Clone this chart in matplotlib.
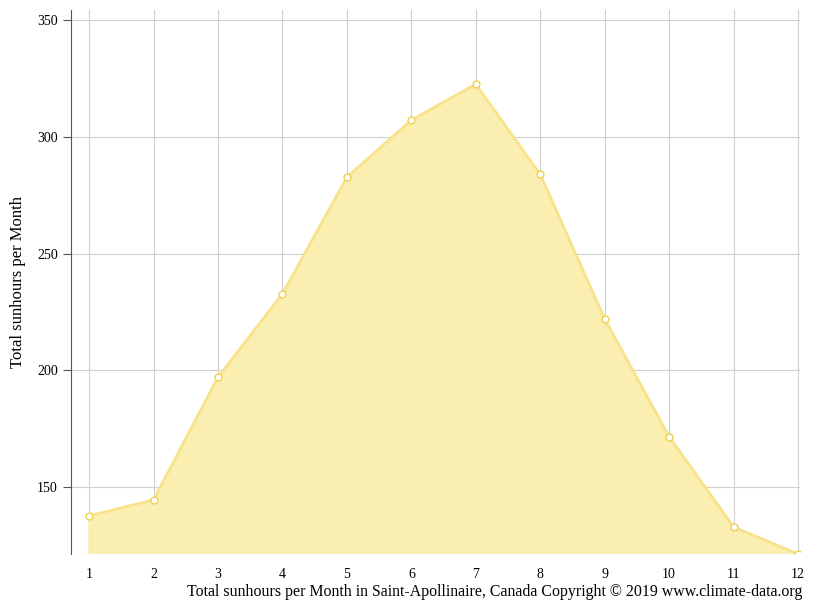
import matplotlib
matplotlib.use("Agg")
import matplotlib.pyplot as plt

months = [1,2,3,4,5,6,7,8,9,10,11,12]
sunhours = [137.6,144.4,197,232.8,282.8,307.3,322.7,284,222,171.5,132.8,121.2]
yticks = [150,200,250,300,350]

plt.rcParams['font.family'] = ['Liberation Serif']
fig = plt.figure(figsize=(8.15,6.11), dpi=100)
ax = fig.add_axes([71/815, 1-554/611, (800-71)/815, (554-10)/611])
ax.fill_between(months, sunhours, 0, color='#faeeb0', zorder=2)
ax.plot(months, sunhours, color='#f8e38a', lw=2, zorder=3)
ax.plot(months, sunhours, 'o', ms=5, mfc='white', mec='#f0d050', mew=1, zorder=4)
ax.set_xlim(0.72, 12.03)
ax.set_ylim(121.2, 354.5)
ax.set_xticks(months)
ax.set_yticks(yticks)
ax.grid(True, color='#d0d0d0', lw=0.8, zorder=1)
for s in ['top','right','bottom']:
    ax.spines[s].set_visible(False)
ax.spines['left'].set_color('#555555')
ax.tick_params(axis='x', length=0, pad=10, labelsize=10)
ax.tick_params(axis='y', length=6, color='#555555', labelsize=10)
fig.text(18/815, 1-282/611, 'Total sunhours per Month', rotation=90, ha='center', va='center', fontsize=12)
fig.text(802/815, 1-592/611, 'Total sunhours per Month in Saint-Apollinaire, Canada Copyright © 2019 www.climate-data.org',
         ha='right', va='center', fontsize=11.4)
fig.savefig('out.png', dpi=100)
